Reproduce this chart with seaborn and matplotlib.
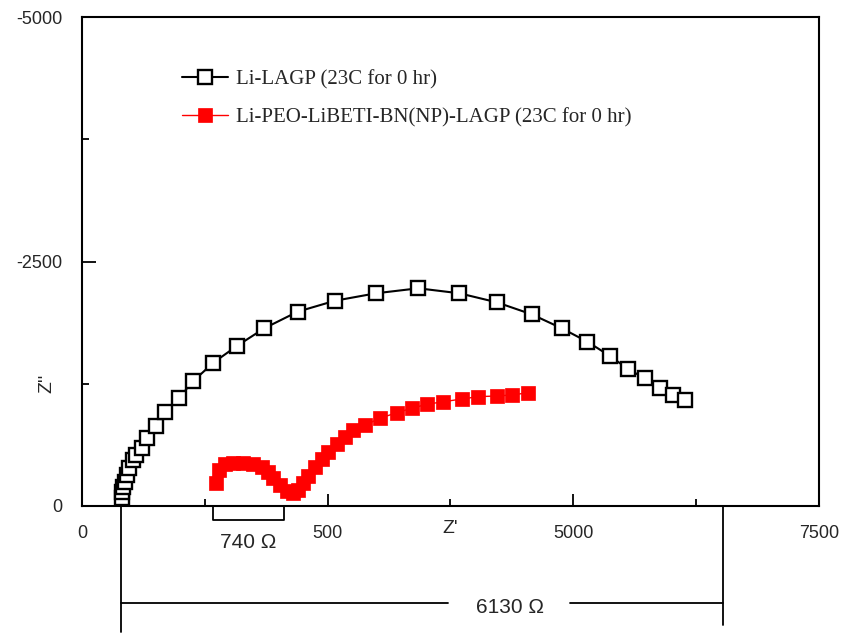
import matplotlib
matplotlib.use('Agg')
import matplotlib.pyplot as plt
import matplotlib.transforms as mtransforms
import seaborn as sns

# ---- data ----
lagp_x = [404, 404, 414, 438, 455, 481, 522, 550, 608, 658, 753, 845, 987, 1133,
          1336, 1580, 1855, 2195, 2575, 2992, 3422, 3840, 4220, 4576, 4882, 5142,
          5373, 5559, 5729, 5882, 6017, 6136]
lagp_y = [-79, -146, -197, -248, -317, -385, -470, -521, -590, -692, -818, -964,
          -1107, -1278, -1465, -1639, -1817, -1987, -2099, -2175, -2226, -2175,
          -2083, -1960, -1817, -1680, -1534, -1398, -1306, -1203, -1135, -1084]

peo_x = [1364, 1397, 1455, 1540, 1641, 1743, 1829, 1896, 1947, 2015, 2083, 2150,
         2201, 2252, 2303, 2371, 2439, 2506, 2592, 2676, 2761, 2880, 3033, 3202,
         3355, 3508, 3677, 3864, 4033, 4220, 4373, 4542]
peo_y = [-232, -368, -426, -443, -443, -429, -402, -351, -283, -215, -156, -130,
         -164, -232, -307, -396, -478, -555, -634, -709, -777, -828, -897, -954,
         -999, -1040, -1066, -1094, -1118, -1125, -1135, -1158]

series_labels = ["Li-LAGP (23C for 0 hr)", "Li-PEO-LiBETI-BN(NP)-LAGP (23C for 0 hr)"]
x_ticks = [0, 2500, 5000, 7500]
x_ticklabels = ["0", "500", "5000", "7500"]
y_ticks = [0, -2500, -5000]
y_ticklabels = ["0", "-2500", "-5000"]
bracket_small = [1333, 2056]
bracket_small_label = "740 \u03a9"
bracket_big = [397, 6527]
bracket_big_label = "6130 \u03a9"

# ---- style ----
sns.set_style('ticks')
plt.rcParams['font.family'] = ['Liberation Sans', 'DejaVu Sans']

fig = plt.figure(figsize=(8.45, 6.34), dpi=100)
ax = fig.add_axes([82 / 845, 128 / 634, 737 / 845, 489 / 634])

sns.lineplot(x=lagp_x, y=lagp_y, sort=False, estimator=None, ax=ax,
             color='black', lw=1.5, marker='s', markersize=10,
             markerfacecolor='white', markeredgecolor='black',
             markeredgewidth=1.7, label=series_labels[0])
sns.lineplot(x=peo_x, y=peo_y, sort=False, estimator=None, ax=ax,
             color='red', lw=1.0, marker='s', markersize=10,
             markerfacecolor='red', markeredgecolor='red',
             markeredgewidth=0.5, label=series_labels[1])

ax.set_xlim(0, 7500)
ax.set_ylim(0, -5000)
ax.set_xticks(x_ticks)
ax.set_xticklabels(x_ticklabels)
ax.set_xticks([1250, 3750, 6250], minor=True)
ax.set_yticks(y_ticks)
ax.set_yticklabels(y_ticklabels)
ax.set_yticks([-1250, -3750], minor=True)
ax.tick_params(which='both', direction='in', top=False, right=False,
               width=1.3, color='black', labelsize=13, pad=14)
ax.tick_params(axis='x', which='major', length=9)
ax.tick_params(axis='y', which='major', length=10)
ax.tick_params(which='minor', length=5)
for s in ax.spines.values():
    s.set_visible(True)
    s.set_linewidth(1.5)
    s.set_color('black')
ax.set_xlabel('')
ax.set_ylabel('')

# axis titles placed at mid-axis like the reference
ax.text(3750, -0.045, "Z'", transform=mtransforms.blended_transform_factory(ax.transData, ax.transAxes),
        ha='center', va='center', fontsize=14)
ax.text(-0.048, -1250, "Z''", transform=mtransforms.blended_transform_factory(ax.transAxes, ax.transData),
        ha='center', va='center', fontsize=14, rotation=90)

leg = ax.legend(loc='upper left', bbox_to_anchor=(0.136, 0.892), frameon=False,
                borderpad=0, borderaxespad=0, handlelength=2.2, handletextpad=0.4,
                labelspacing=0.9, prop={'family': 'Liberation Serif', 'size': 15})

# annotation brackets below the axis
tr = mtransforms.blended_transform_factory(ax.transData, ax.transAxes)
kw = dict(color='black', lw=1.3, clip_on=False, transform=tr)
ax.plot([bracket_small[0], bracket_small[0], bracket_small[1], bracket_small[1]],
        [0, -0.029, -0.029, 0], **kw)
ax.text(sum(bracket_small) / 2, -0.074, bracket_small_label, transform=tr,
        ha='center', va='center', fontsize=15)

ax.plot([bracket_big[0], bracket_big[0]], [0, -0.258], **kw)
ax.plot([bracket_big[1], bracket_big[1]], [0, -0.243], **kw)
ax.plot([bracket_big[0], 3725], [-0.198, -0.198], **kw)
ax.plot([4966, bracket_big[1]], [-0.198, -0.198], **kw)
ax.text(4355, -0.207, bracket_big_label, transform=tr, ha='center', va='center', fontsize=15)

fig.savefig('out.png', dpi=100)
